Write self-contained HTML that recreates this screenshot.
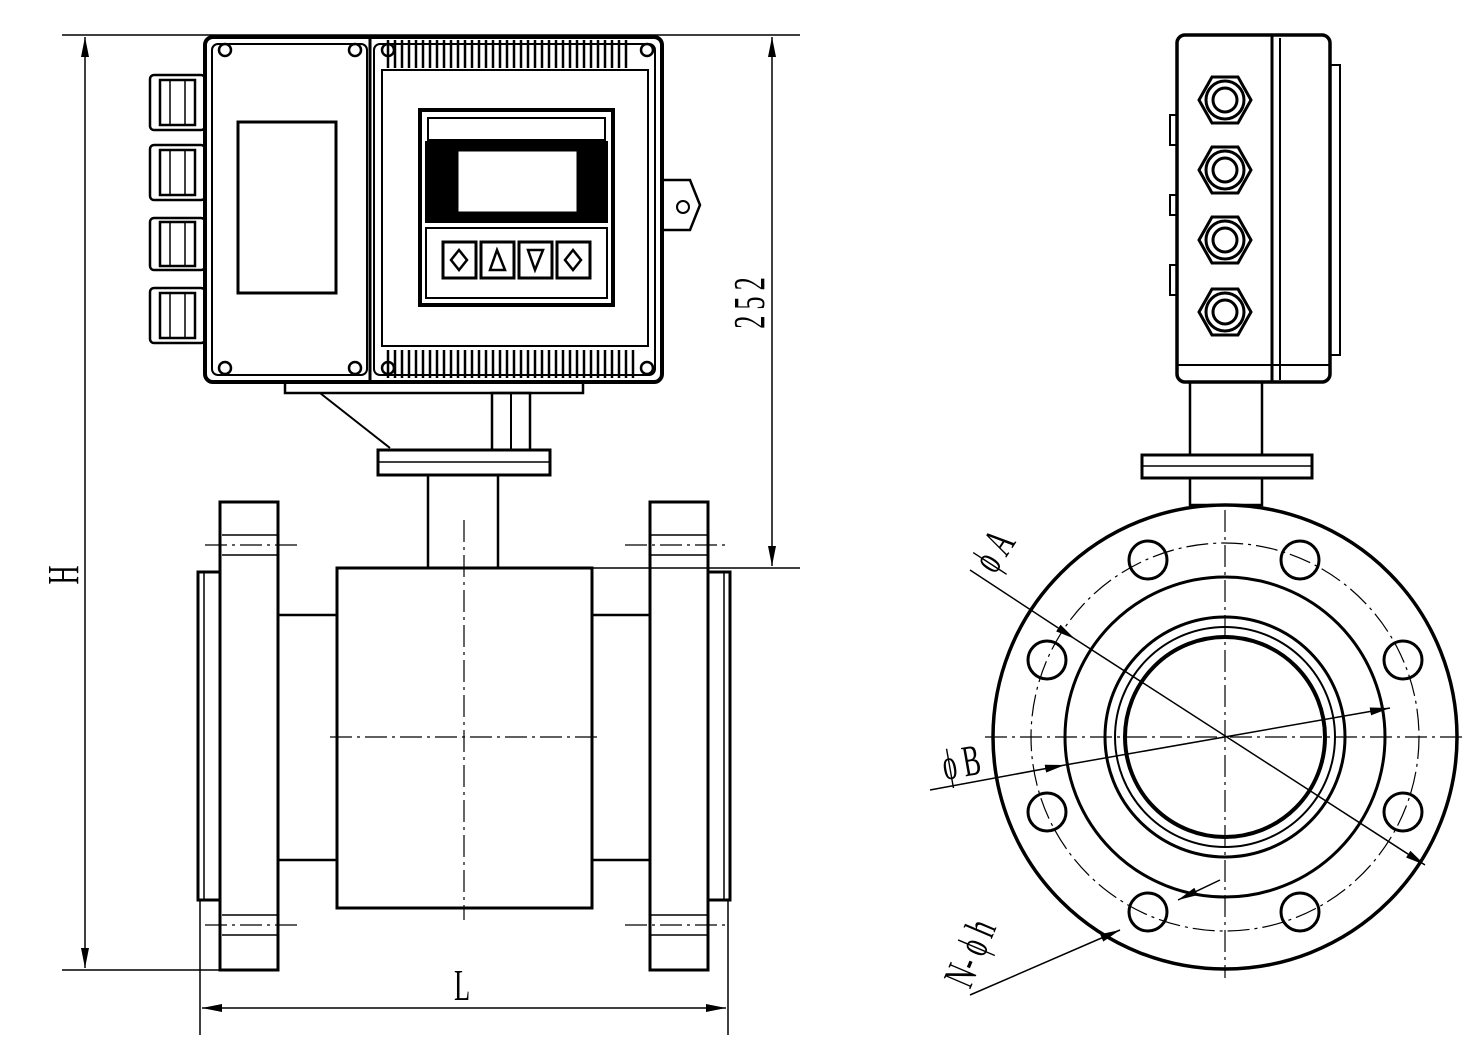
<!DOCTYPE html>
<html><head><meta charset="utf-8"><style>html,body{margin:0;padding:0;background:#fff}svg{display:block}</style></head><body>
<svg width="1482" height="1052" viewBox="0 0 1482 1052" xmlns="http://www.w3.org/2000/svg" font-family="Liberation Serif, serif">
<defs>
<marker id="ar" viewBox="0 0 20 8" refX="20" refY="4" markerWidth="20" markerHeight="8" orient="auto-start-reverse" markerUnits="userSpaceOnUse"><path d="M0,0 L20,4 L0,8 z" fill="#000"/></marker>
</defs>
<g stroke="#000" fill="none" stroke-width="2">
<line x1="62" y1="35" x2="800" y2="35" stroke-width="1.5"/>
<line x1="62" y1="970" x2="222" y2="970" stroke-width="1.5"/>
<line x1="85" y1="37" x2="85" y2="968" stroke-width="1.5" marker-start="url(#ar)" marker-end="url(#ar)"/>
<line x1="590" y1="568" x2="800" y2="568" stroke-width="1.5"/>
<line x1="772" y1="37" x2="772" y2="566" stroke-width="1.5" marker-start="url(#ar)" marker-end="url(#ar)"/>
<line x1="200" y1="900" x2="200" y2="1035" stroke-width="1.5"/>
<line x1="728" y1="900" x2="728" y2="1035" stroke-width="1.5"/>
<line x1="202" y1="1008" x2="726" y2="1008" stroke-width="1.5" marker-start="url(#ar)" marker-end="url(#ar)"/>

<rect x="205" y="37" width="457" height="345" rx="8" stroke-width="4"/>
<rect x="212" y="44" width="155" height="331" rx="6"/>
<rect x="374" y="44" width="281" height="331" rx="6"/>
<line x1="370" y1="37" x2="370" y2="382" stroke-width="3"/>
<rect x="238" y="122" width="98" height="171" stroke-width="3"/>
<rect x="382" y="70" width="266" height="276"/>
<g stroke-width="2.5">
<path d="M388,40V68 M395,40V68 M402,40V68 M409,40V68 M416,40V68 M423,40V68 M430,40V68 M437,40V68 M444,40V68 M451,40V68 M458,40V68 M465,40V68 M472,40V68 M479,40V68 M486,40V68 M493,40V68 M500,40V68 M507,40V68 M514,40V68 M521,40V68 M528,40V68 M535,40V68 M542,40V68 M549,40V68 M556,40V68 M563,40V68 M570,40V68 M577,40V68 M584,40V68 M591,40V68 M598,40V68 M605,40V68 M612,40V68 M619,40V68 M626,40V68"/>
<path d="M388,350V378 M395,350V378 M402,350V378 M409,350V378 M416,350V378 M423,350V378 M430,350V378 M437,350V378 M444,350V378 M451,350V378 M458,350V378 M465,350V378 M472,350V378 M479,350V378 M486,350V378 M493,350V378 M500,350V378 M507,350V378 M514,350V378 M521,350V378 M528,350V378 M535,350V378 M542,350V378 M549,350V378 M556,350V378 M563,350V378 M570,350V378 M577,350V378 M584,350V378 M591,350V378 M598,350V378 M605,350V378 M612,350V378 M619,350V378 M626,350V378 M633,350V378"/>
</g>
<g stroke-width="2.5">
<circle cx="225" cy="50" r="6"/><circle cx="355" cy="50" r="6"/><circle cx="225" cy="368" r="6"/><circle cx="355" cy="368" r="6"/>
<circle cx="388" cy="50" r="6"/><circle cx="647" cy="50" r="6"/><circle cx="388" cy="368" r="6"/><circle cx="647" cy="368" r="6"/>
</g>
<rect x="420" y="110" width="193" height="195" stroke-width="4"/>
<rect x="428" y="118" width="177" height="22"/>
<rect x="426" y="142" width="181" height="80" fill="#000"/>
<rect x="457" y="150" width="121" height="63" fill="#fff" stroke-width="3"/>
<rect x="426" y="228" width="181" height="70"/>
<rect x="443" y="242" width="33" height="36" stroke-width="3"/>
<rect x="481" y="242" width="33" height="36" stroke-width="3"/>
<rect x="519" y="242" width="33" height="36" stroke-width="3"/>
<rect x="557" y="242" width="33" height="36" stroke-width="3"/>
<path d="M459,250 L451,260 L459,270 L467,260Z M490,270 L497,250 L505,270Z M528,250 L543,250 L535,270Z M573,250 L565,260 L573,270 L581,260Z" stroke-width="2.5"/>
<g stroke-width="2.5">
<rect x="150" y="75" width="55" height="55" rx="4"/><rect x="160" y="80" width="35" height="45"/>
<rect x="150" y="145" width="55" height="55" rx="4"/><rect x="160" y="150" width="35" height="45"/>
<rect x="150" y="218" width="55" height="52" rx="4"/><rect x="160" y="222" width="35" height="44"/>
<rect x="150" y="288" width="55" height="55" rx="4"/><rect x="160" y="293" width="35" height="45"/>
<path d="M170,80V125 M185,80V125 M170,150V195 M185,150V195 M170,222V266 M185,222V266 M170,293V338 M185,293V338" stroke-width="1.5"/>
</g>
<path d="M662,180 H690 L700,205 L690,230 H662" stroke-width="2.5"/><circle cx="683" cy="207" r="6"/>
<rect x="285" y="382" width="298" height="11" stroke-width="2.5"/>
<line x1="320" y1="393" x2="390" y2="448"/>
<rect x="492" y="393" width="38" height="57" stroke-width="2.5"/><line x1="511" y1="393" x2="511" y2="450"/>
<rect x="378" y="450" width="172" height="25" stroke-width="3"/>
<line x1="378" y1="462" x2="550" y2="462" stroke-width="1.5"/>
<rect x="428" y="475" width="70" height="93" stroke-width="2.5"/>
<rect x="337" y="568" width="255" height="340" stroke-width="3"/>
<rect x="278" y="615" width="59" height="245" stroke-width="2.5"/>
<rect x="592" y="615" width="58" height="245" stroke-width="2.5"/>
<rect x="220" y="502" width="58" height="468" stroke-width="3"/>
<rect x="650" y="502" width="58" height="468" stroke-width="3"/>
<rect x="198" y="572" width="22" height="328" stroke-width="3"/>
<rect x="708" y="572" width="22" height="328" stroke-width="3"/>
<line x1="204" y1="572" x2="204" y2="900" stroke-width="1.5"/>
<line x1="724" y1="572" x2="724" y2="900" stroke-width="1.5"/>
<g stroke-width="1.2" stroke-dasharray="22,5,3,5">
<line x1="464" y1="520" x2="464" y2="920"/>
<line x1="330" y1="737" x2="600" y2="737"/>
<line x1="205" y1="545" x2="300" y2="545"/><line x1="205" y1="925" x2="300" y2="925"/>
<line x1="625" y1="545" x2="725" y2="545"/><line x1="625" y1="925" x2="725" y2="925"/>
<line x1="1225" y1="510" x2="1225" y2="978"/>
<line x1="985" y1="737" x2="1465" y2="737"/>
<circle cx="1225" cy="737" r="194"/>
</g>
<g stroke-width="1.5">
<line x1="222" y1="535" x2="278" y2="535"/><line x1="222" y1="555" x2="278" y2="555"/>
<line x1="222" y1="915" x2="278" y2="915"/><line x1="222" y1="935" x2="278" y2="935"/>
<line x1="650" y1="535" x2="708" y2="535"/><line x1="650" y1="555" x2="708" y2="555"/>
<line x1="650" y1="915" x2="708" y2="915"/><line x1="650" y1="935" x2="708" y2="935"/>
</g>

<rect x="1177" y="35" width="153" height="347" rx="8" stroke-width="3.5"/>
<line x1="1272" y1="35" x2="1272" y2="382" stroke-width="3"/>
<line x1="1280" y1="38" x2="1280" y2="380"/>
<rect x="1330" y="65" width="10" height="290"/>
<line x1="1177" y1="365" x2="1330" y2="365"/>
<g stroke-width="3">
<path d="M1199,100 l13,-23 h26 l13,23 l-13,23 h-26z M1199,170 l13,-23 h26 l13,23 l-13,23 h-26z M1199,240 l13,-23 h26 l13,23 l-13,23 h-26z M1199,312 l13,-23 h26 l13,23 l-13,23 h-26z"/>
<circle cx="1225" cy="100" r="19"/><circle cx="1225" cy="100" r="12"/>
<circle cx="1225" cy="170" r="19"/><circle cx="1225" cy="170" r="12"/>
<circle cx="1225" cy="240" r="19"/><circle cx="1225" cy="240" r="12"/>
<circle cx="1225" cy="312" r="19"/><circle cx="1225" cy="312" r="12"/>
</g>
<rect x="1170" y="115" width="7" height="30"/><rect x="1170" y="195" width="7" height="20"/><rect x="1170" y="265" width="7" height="30"/>
<rect x="1190" y="382" width="72" height="73" stroke-width="2.5"/>
<rect x="1142" y="455" width="170" height="23" stroke-width="3"/>
<line x1="1142" y1="466" x2="1312" y2="466" stroke-width="1.5"/>
<rect x="1190" y="478" width="72" height="27" stroke-width="2.5"/>
<circle cx="1225" cy="737" r="232" stroke-width="3.5"/>
<circle cx="1225" cy="737" r="160" stroke-width="3"/>
<circle cx="1225" cy="737" r="120" stroke-width="3"/>
<circle cx="1225" cy="737" r="110" stroke-width="2"/>
<circle cx="1225" cy="737" r="100" stroke-width="4"/>
<g stroke-width="3">
<circle cx="1148" cy="560" r="19"/><circle cx="1300" cy="560" r="19"/>
<circle cx="1047" cy="660" r="19"/><circle cx="1403" cy="660" r="19"/>
<circle cx="1047" cy="812" r="19"/><circle cx="1403" cy="812" r="19"/>
<circle cx="1148" cy="912" r="19"/><circle cx="1300" cy="912" r="19"/>
</g>
<g stroke-width="1.5">
<line x1="970" y1="570" x2="1075" y2="639" marker-end="url(#ar)"/>
<line x1="1075" y1="639" x2="1425" y2="865" marker-end="url(#ar)"/>
<line x1="930" y1="790" x2="1065" y2="765" marker-end="url(#ar)"/>
<line x1="1065" y1="765" x2="1390" y2="708" marker-end="url(#ar)"/>
<line x1="970" y1="995" x2="1120" y2="930" marker-end="url(#ar)"/>
<line x1="1178" y1="900" x2="1220" y2="880" marker-start="url(#ar)"/>
</g>
</g>
<g font-size="44" fill="#000">
<text transform="translate(462,1000) scale(0.6,1)" text-anchor="middle">L</text>
<text transform="translate(78,575) rotate(-90) scale(0.6,1)" text-anchor="middle">H</text>
<text transform="translate(764,300) rotate(-90) scale(0.6,1)" text-anchor="middle" letter-spacing="10">252</text>
<text transform="translate(995,575) rotate(-57) scale(0.6,1)">ϕ A</text>
<text transform="translate(945,780) rotate(-10) scale(0.6,1)">ϕ B</text>
<text transform="translate(970,990) rotate(-67) scale(0.6,1)">N- ϕ h</text>
</g>
</svg>
</body></html>
